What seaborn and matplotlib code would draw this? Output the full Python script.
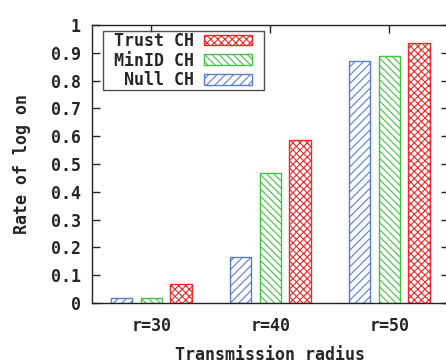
import pandas as pd
import matplotlib.pyplot as plt
import seaborn as sns
from matplotlib.patches import Patch, Rectangle
from matplotlib.legend_handler import HandlerPatch

# data
radius = ['r=30', 'r=40', 'r=50']
null_ch = [0.02, 0.165, 0.87]
minid_ch = [0.02, 0.468, 0.888]
trust_ch = [0.07, 0.586, 0.935]

methods = ['Null CH', 'MinID CH', 'Trust CH']
colors = {'Null CH': '#5a7ccc', 'MinID CH': '#45c045', 'Trust CH': '#f02828'}
hatches = {'Null CH': '/' * 6, 'MinID CH': '\\' * 7, 'Trust CH': 'x' * 7}

df = pd.DataFrame({
    'radius': radius * 3,
    'rate': null_ch + minid_ch + trust_ch,
    'method': ['Null CH'] * 3 + ['MinID CH'] * 3 + ['Trust CH'] * 3,
})

# drawn at 150 dpi so the hatch spacing comes out like the original;
# S converts sizes that were tuned at 100 dpi
DPI = 150
S = 100 / DPI

sns.set_style('ticks')
plt.rcParams['font.family'] = ['DejaVu Sans Mono']
plt.rcParams['font.weight'] = 'bold'
plt.rcParams['font.size'] = 12 * S
plt.rcParams['hatch.linewidth'] = 0.8 * S

fig = plt.figure(figsize=(446 / DPI, 363 / DPI), dpi=DPI)
ax = fig.add_axes([0.206, 0.165, 0.80, 0.766])

sns.barplot(data=df, x='radius', y='rate', hue='method', hue_order=methods,
            palette=colors, fill=False, width=0.75, gap=0.28, ax=ax, legend=False)

for cont, m in zip(ax.containers, methods):
    for bar in cont:
        bar.set_facecolor('none')
        bar.set_edgecolor(colors[m])
        bar.set_hatch(hatches[m])
        bar.set_linewidth(1.0 * S)

ax.set_xlim(-0.5, 2.5)
ax.set_ylim(0, 1)
ax.set_yticks([i / 10 for i in range(11)])
ax.set_yticklabels(['0', '0.1', '0.2', '0.3', '0.4', '0.5', '0.6', '0.7', '0.8', '0.9', '1'])
ax.tick_params(axis='y', direction='in', length=6 * S, right=True, pad=8 * S, width=1 * S)
ax.tick_params(axis='x', direction='in', length=6 * S, top=True, bottom=False, pad=10 * S, width=1 * S)
for s in ax.spines.values():
    s.set_linewidth(1.0 * S)
    s.set_color('#222222')

ax.set_xlabel('Transmission radius', fontweight='bold', labelpad=8 * S)
ax.set_ylabel('Rate of log on', fontweight='bold', labelpad=14 * S)


def short_patch(legend, orig_handle, xdescent, ydescent, width, height, fontsize):
    # leave a gap between the swatch and the right edge of the frame
    return Rectangle((-xdescent, -ydescent), width * 0.81, height)


handles = [Patch(facecolor='none', edgecolor=colors[m], hatch=hatches[m], linewidth=1.0 * S)
           for m in methods[::-1]]
labels = [' Trust CH', ' MinID CH', '  Null CH']
leg = ax.legend(handles, labels, loc='upper left', markerfirst=False, frameon=True,
                fancybox=False, handlelength=3.55, handleheight=0.6, labelspacing=0.1,
                borderpad=0.05, handletextpad=0.6, borderaxespad=0,
                bbox_to_anchor=(0.031, 0.978),
                handler_map={Patch: HandlerPatch(patch_func=short_patch)})
leg.get_frame().set_edgecolor('#222222')
leg.get_frame().set_linewidth(1.0 * S)

fig.savefig('out.png', dpi=DPI)
